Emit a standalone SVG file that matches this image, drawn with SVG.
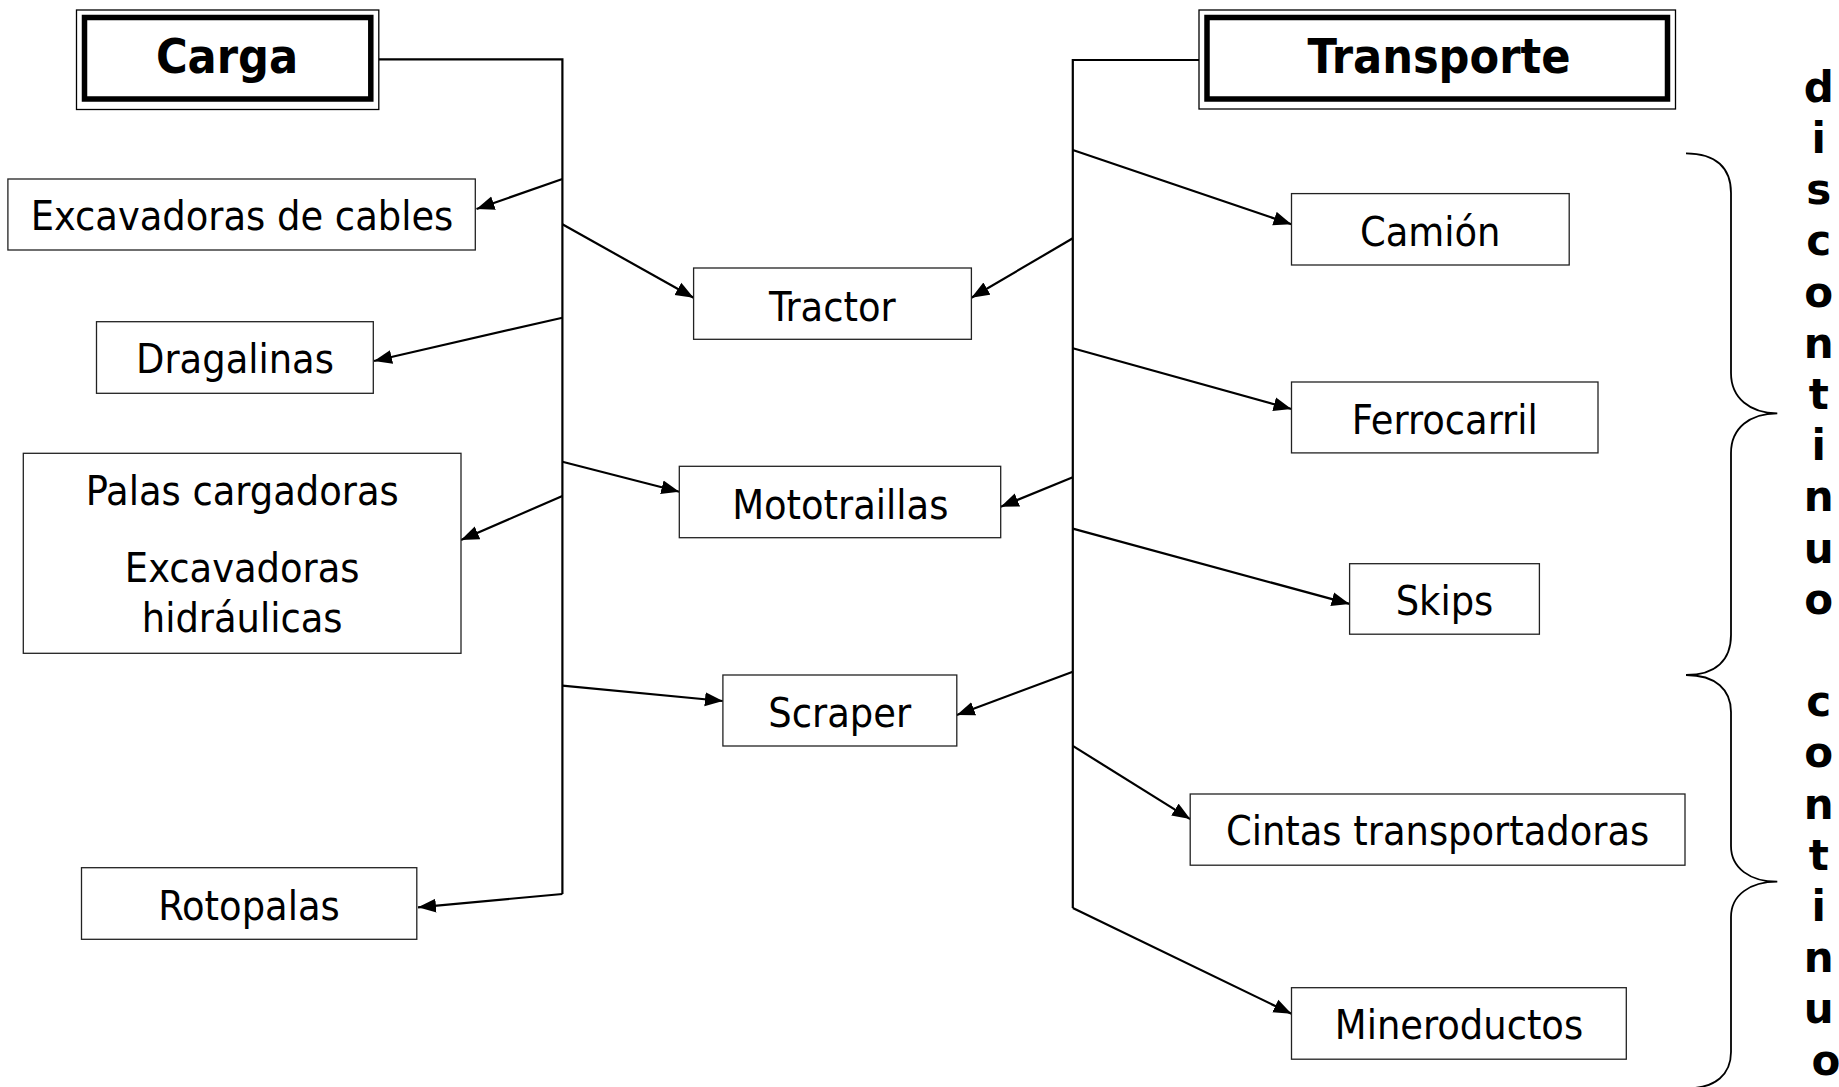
<svg xmlns="http://www.w3.org/2000/svg" width="1839" height="1087" viewBox="0 0 1839 1087">
<style>
.box{fill:#fff;stroke:#222;stroke-width:1.3}
.lbl{font-family:"DejaVu Sans Condensed","DejaVu Sans",sans-serif;font-stretch:condensed;font-size:41px;fill:#000;text-anchor:middle}
.hd{font-family:"DejaVu Sans Condensed","DejaVu Sans",sans-serif;font-stretch:condensed;font-weight:bold;font-size:48px;fill:#000;text-anchor:middle}
.outer{fill:#fff;stroke:#000;stroke-width:1.3}
.thick{fill:none;stroke:#000;stroke-width:5.5}
.conn{fill:none;stroke:#000;stroke-width:2.2}
.brace{fill:none;stroke:#000;stroke-width:1.8}
.side{font-family:"DejaVu Sans",sans-serif;font-weight:bold;font-size:42px;fill:#000;text-anchor:middle}
</style>
<defs>
<marker id="ah" markerUnits="userSpaceOnUse" markerWidth="19" markerHeight="15" refX="18" refY="7.5" orient="auto">
<path d="M0,0.5 L18,7.5 L0,14.5 z" fill="#000"/>
</marker>
</defs>
<rect width="1839" height="1087" fill="#fff"/>

<g id="connectors">
<polyline class="conn" points="378.8,59.3 562.4,59.3 562.4,894"/>
<line class="conn" x1="562.4" y1="179" x2="476.5" y2="209" marker-end="url(#ah)"/>
<line class="conn" x1="562.4" y1="224.3" x2="693.6" y2="297.7" marker-end="url(#ah)"/>
<line class="conn" x1="562.4" y1="317.7" x2="374" y2="361" marker-end="url(#ah)"/>
<line class="conn" x1="562.4" y1="461.7" x2="679.3" y2="491.7" marker-end="url(#ah)"/>
<line class="conn" x1="562.4" y1="496" x2="461" y2="540" marker-end="url(#ah)"/>
<line class="conn" x1="562.4" y1="685.7" x2="722.9" y2="701" marker-end="url(#ah)"/>
<line class="conn" x1="562.4" y1="894" x2="418" y2="907.3" marker-end="url(#ah)"/>

<polyline class="conn" points="1199,60 1072.8,60 1072.8,908.1"/>
<line class="conn" x1="1072.8" y1="150" x2="1291.5" y2="224.3" marker-end="url(#ah)"/>
<line class="conn" x1="1072.8" y1="238.3" x2="971.4" y2="297.7" marker-end="url(#ah)"/>
<line class="conn" x1="1072.8" y1="348.2" x2="1291.5" y2="409" marker-end="url(#ah)"/>
<line class="conn" x1="1072.8" y1="477.3" x2="1000.7" y2="506.7" marker-end="url(#ah)"/>
<line class="conn" x1="1072.8" y1="528.6" x2="1349.6" y2="603.9" marker-end="url(#ah)"/>
<line class="conn" x1="1072.8" y1="671.7" x2="956.8" y2="715" marker-end="url(#ah)"/>
<line class="conn" x1="1072.8" y1="745.9" x2="1190.2" y2="819.1" marker-end="url(#ah)"/>
<line class="conn" x1="1072.8" y1="908.1" x2="1291.5" y2="1013.8" marker-end="url(#ah)"/>
</g>

<g id="carga">
<rect class="outer" x="76.5" y="10" width="302.3" height="99.5"/>
<rect class="thick" x="84.5" y="17.5" width="286.3" height="81.5"/>
<text class="hd" x="227" y="72.7">Carga</text>
</g>
<g id="transporte">
<rect class="outer" x="1199" y="10" width="476.5" height="99"/>
<rect class="thick" x="1207" y="17.5" width="460.5" height="81.5"/>
<text class="hd" x="1439" y="73">Transporte</text>
</g>

<g id="excavadoras-cables">
<rect class="box" x="7.9" y="179" width="467.4" height="71"/>
<text class="lbl" x="242" y="230">Excavadoras de cables</text>
</g>
<g id="dragalinas">
<rect class="box" x="96.5" y="321.7" width="276.8" height="71.6"/>
<text class="lbl" x="235" y="372.7">Dragalinas</text>
</g>
<g id="palas">
<rect class="box" x="23.3" y="453.3" width="437.7" height="200"/>
<text class="lbl" x="242.2" y="505">Palas cargadoras</text>
<text class="lbl" x="242.2" y="582.3">Excavadoras</text>
<text class="lbl" x="242.2" y="632.3">hidráulicas</text>
</g>
<g id="rotopalas">
<rect class="box" x="81.5" y="867.7" width="335.3" height="71.6"/>
<text class="lbl" x="249" y="920">Rotopalas</text>
</g>

<g id="tractor">
<rect class="box" x="693.6" y="268" width="277.8" height="71.3"/>
<text class="lbl" x="832.3" y="321">Tractor</text>
</g>
<g id="mototraillas">
<rect class="box" x="679.3" y="466.3" width="321.4" height="71.4"/>
<text class="lbl" x="840.3" y="519">Mototraillas</text>
</g>
<g id="scraper">
<rect class="box" x="722.9" y="675" width="233.9" height="71"/>
<text class="lbl" x="839.7" y="726.7">Scraper</text>
</g>

<g id="camion">
<rect class="box" x="1291.5" y="193.6" width="277.7" height="71.4"/>
<text class="lbl" x="1430.2" y="245.7">Camión</text>
</g>
<g id="ferrocarril">
<rect class="box" x="1291.5" y="382" width="306.5" height="70.9"/>
<text class="lbl" x="1444.8" y="434">Ferrocarril</text>
</g>
<g id="skips">
<rect class="box" x="1349.6" y="563.7" width="189.8" height="70.5"/>
<text class="lbl" x="1444.5" y="615">Skips</text>
</g>
<g id="cintas">
<rect class="box" x="1190.2" y="794" width="494.8" height="71.2"/>
<text class="lbl" x="1437.6" y="845.3">Cintas transportadoras</text>
</g>
<g id="mineroductos">
<rect class="box" x="1291.5" y="987.7" width="334.8" height="71.5"/>
<text class="lbl" x="1459" y="1039">Mineroductos</text>
</g>

<g id="braces">
<path class="brace" d="M1686,153.3 C1716,153.3 1731,168 1731,193 L1731,373 C1731,398 1750,413.3 1777.3,413.3 C1750,413.3 1731,428 1731,453 L1731,635 C1731,660 1716,675 1686,675"/>
<path class="brace" d="M1686,675 C1716,675 1731,690 1731,712 L1731,846 C1731,868 1750,881.7 1777.3,881.7 C1750,881.7 1731,895 1731,917 L1731,1052 C1731,1074 1716,1088.4 1686,1088.4"/>
</g>

<g id="side-label">
<text class="side">
<tspan x="1826" y="101.7">d</tspan>
<tspan x="1826" dy="51.2">i</tspan>
<tspan x="1826" dy="51.2">s</tspan>
<tspan x="1826" dy="51.2">c</tspan>
<tspan x="1826" dy="51.2">o</tspan>
<tspan x="1826" dy="51.2">n</tspan>
<tspan x="1826" dy="51.2">t</tspan>
<tspan x="1826" dy="51.2">i</tspan>
<tspan x="1826" dy="51.2">n</tspan>
<tspan x="1826" dy="51.2">u</tspan>
<tspan x="1826" dy="51.2">o</tspan>
<tspan x="1826" dy="102.4">c</tspan>
<tspan x="1826" dy="51.2">o</tspan>
<tspan x="1826" dy="51.2">n</tspan>
<tspan x="1826" dy="51.2">t</tspan>
<tspan x="1826" dy="51.2">i</tspan>
<tspan x="1826" dy="51.2">n</tspan>
<tspan x="1826" dy="51.2">u</tspan>
<tspan x="1826" dy="51.2">o</tspan>
</text>
</g>
</svg>
